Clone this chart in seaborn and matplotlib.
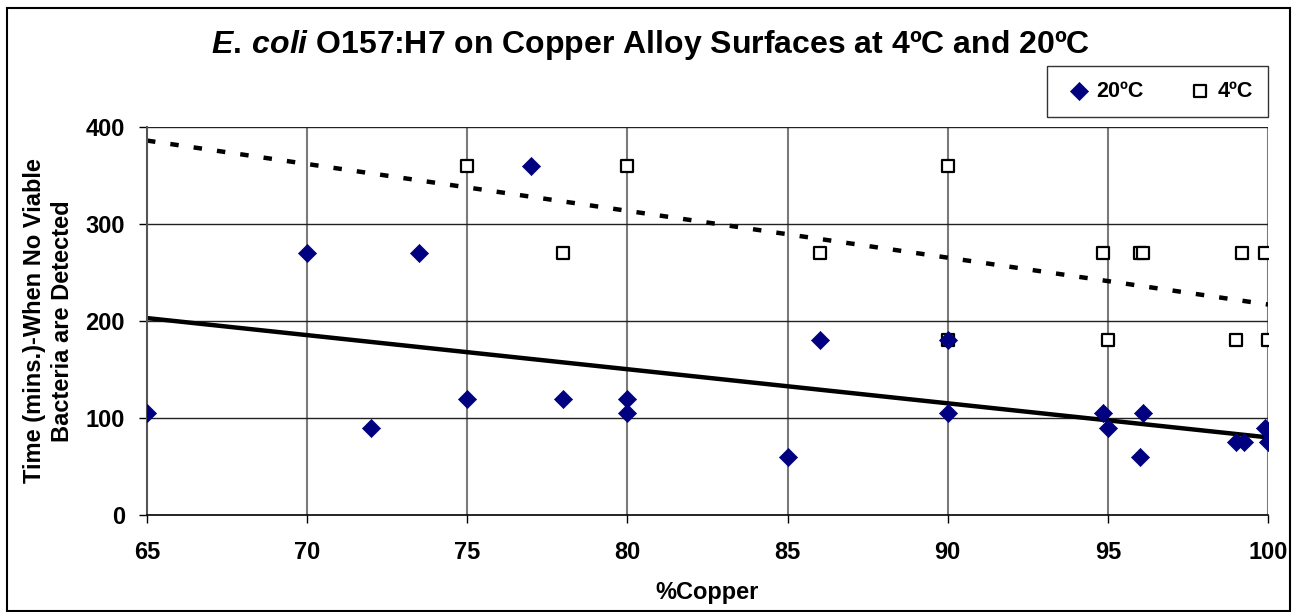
import matplotlib
matplotlib.use("Agg")
import matplotlib.pyplot as plt
import pandas as pd
import seaborn as sns
from matplotlib.patches import Rectangle

# 20ºC: minutes until no viable bacteria detected
copper_20 = [65, 70, 72, 73.5, 75, 77, 78, 80, 80, 85, 86, 90, 90,
             94.85, 95, 96, 96.1, 99, 99.25, 99.9, 100]
time_20 = [105, 270, 90, 270, 120, 360, 120, 120, 105, 60, 180, 180, 105,
           105, 90, 60, 105, 75, 75, 90, 75]

# 4ºC
copper_4 = [75, 78, 80, 86, 90, 90, 94.85, 95, 96, 96.1, 99, 99.2, 99.9, 100]
time_4 = [360, 270, 360, 270, 360, 180, 270, 180, 270, 270, 180, 270, 270, 180]

# linear trend lines (value at 65% and 100% copper)
trend_x = [65, 100]
trend_20 = [203, 80]
trend_4 = [386, 217]

x_ticks = [65, 70, 75, 80, 85, 90, 95, 100]
y_ticks = [0, 100, 200, 300, 400]

sns.set_theme(style="white")
plt.rcParams["font.family"] = ["Liberation Sans", "DejaVu Sans"]
plt.rcParams["mathtext.fontset"] = "custom"
plt.rcParams["mathtext.it"] = "Liberation Sans:italic:bold"
plt.rcParams["mathtext.rm"] = "Liberation Sans:bold"
for key in ["text.color", "axes.labelcolor", "xtick.color", "ytick.color"]:
    plt.rcParams[key] = "black"

df20 = pd.DataFrame({"copper": copper_20, "time": time_20})
df4 = pd.DataFrame({"copper": copper_4, "time": time_4})
trend = pd.DataFrame({"copper": trend_x, "t20": trend_20, "t4": trend_4})

fig = plt.figure(figsize=(13.01, 6.12), dpi=100)
ax = fig.add_axes([147 / 1301, 1 - 515 / 612, (1268 - 147) / 1301, (515 - 127) / 612])

ax.set_xlim(65, 100)
ax.set_ylim(0, 400)

for xv in x_ticks[1:]:
    ax.axvline(xv, color="#7a7a7a", lw=1.5, zorder=0)
for yv in y_ticks[1:]:
    ax.axhline(yv, color="#222222", lw=1.0, zorder=0)

sns.lineplot(data=trend, x="copper", y="t20", ax=ax, color="black", lw=3.2)
sns.lineplot(data=trend, x="copper", y="t4", ax=ax, color="black", lw=3.2,
             dashes=False, linestyle=(0, (1.9, 3.4)))

sns.scatterplot(data=df20, x="copper", y="time", ax=ax, marker="D", s=85,
                color="#000080", edgecolor="#000080", linewidth=0.5,
                label="20ºC", zorder=4)
sns.scatterplot(data=df4, x="copper", y="time", ax=ax, marker="s", s=85,
                facecolor="white", edgecolor="black", linewidth=1.6,
                label="4ºC", zorder=3)

ax.set_xlim(65, 100)
ax.set_ylim(0, 400)
ax.set_xticks(x_ticks)
ax.set_yticks(y_ticks)
ax.tick_params(axis="x", labelsize=17, length=6, width=1, pad=13, direction="out", bottom=True)
ax.tick_params(axis="y", labelsize=17, length=6, width=1, pad=10, direction="out", left=True)
for lab in ax.get_xticklabels() + ax.get_yticklabels():
    lab.set_fontweight("bold")

for side in ["top", "right"]:
    ax.spines[side].set_visible(False)
ax.spines["bottom"].set_color("black")
ax.spines["bottom"].set_linewidth(1.2)
ax.spines["left"].set_color("#555555")
ax.spines["left"].set_linewidth(1.5)

ax.set_xlabel("%Copper", fontsize=17, fontweight="bold", labelpad=12)
ax.set_ylabel("Time (mins.)-When No Viable\nBacteria are Detected",
              fontsize=17, fontweight="bold", labelpad=8, linespacing=1.3)

fig.text(0.4996, 0.926, r"$\mathit{E.\,coli}$ O157:H7 on Copper Alloy Surfaces at 4ºC and 20ºC",
         ha="center", va="center", fontsize=23, fontweight="bold")

leg = ax.legend(loc="lower right", bbox_to_anchor=(1.0, 1.026), ncol=2,
                frameon=True, fancybox=False, prop={"weight": "bold", "size": 15.5},
                handlelength=1.5, handletextpad=0.05, columnspacing=1.9,
                borderpad=0.7, borderaxespad=0.0, markerscale=1.0)
leg.get_frame().set_edgecolor("black")
leg.get_frame().set_linewidth(1.0)

fig.patches.append(Rectangle((7 / 1301, 0.0015), (1290 - 7) / 1301, 1 - 8 / 612 - 0.0015,
                             transform=fig.transFigure, fill=False,
                             edgecolor="black", linewidth=1.5))

fig.savefig("out.png", dpi=100)
